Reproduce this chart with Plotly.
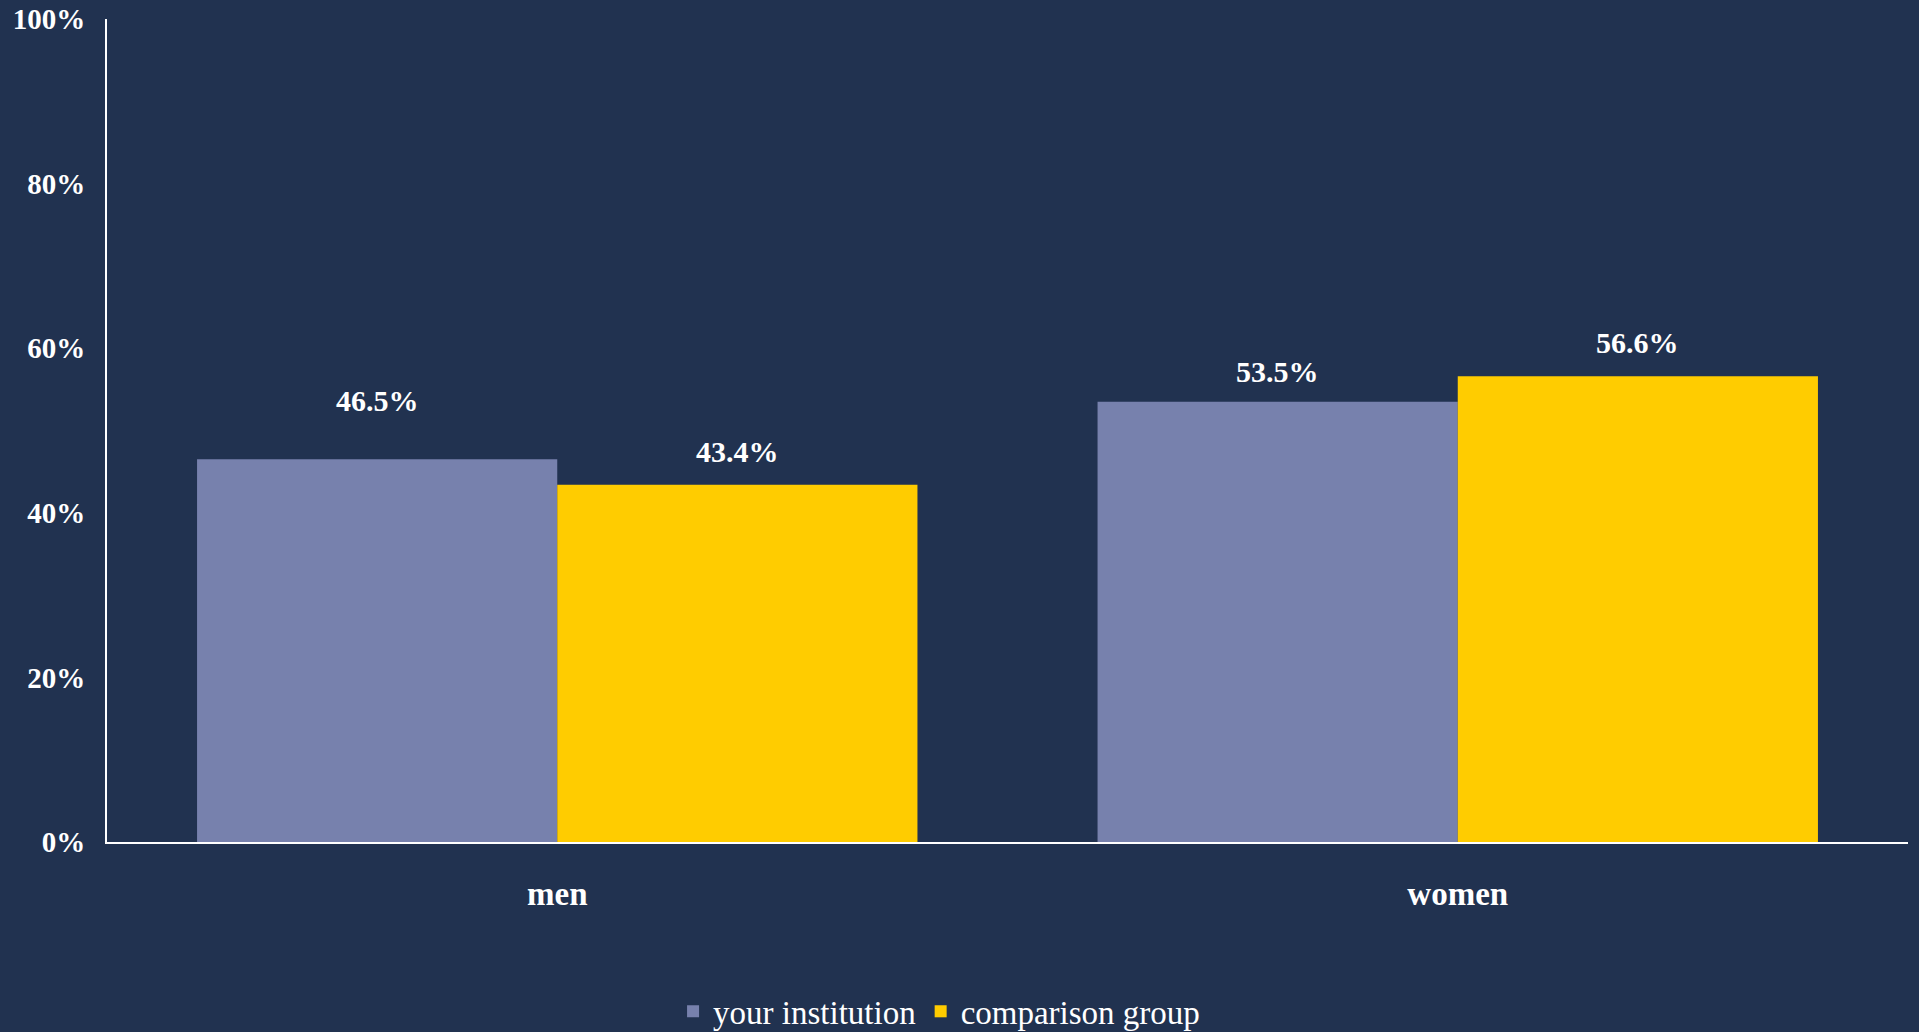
import plotly.graph_objects as go

categories = ["men", "women"]
series_names = ["your institution", "comparison group"]
your_institution = [46.5, 53.5]
comparison_group = [43.4, 56.6]
y_ticks = [0, 20, 40, 60, 80, 100]
y_tick_labels = ["0%", "20%", "40%", "60%", "80%", "100%"]

BG = "#213250"
C1 = "#7781AD"
C2 = "#FFCC00"
FONT = "Liberation Serif"

# label vertical offsets (px above bar top), per series / category
label_offsets = [[59, 30], [33, 34]]

W, H = 1919, 1032
ML, MR, MT, MB = 107, 11, 19, 190

fig = go.Figure()
series = [(series_names[0], your_institution, C1),
          (series_names[1], comparison_group, C2)]
for name, vals, col in series:
    fig.add_trace(go.Bar(
        x=categories, y=vals, name=name,
        marker=dict(color=col, line=dict(width=0)),
        hoverinfo="skip",
    ))

plot_w = W - ML - MR
cat_w = plot_w / len(categories)
bar_w = cat_w * 0.8 / len(series)
for si, (name, vals, col) in enumerate(series):
    xs = (si - (len(series) - 1) / 2) * bar_w
    for ci, v in enumerate(vals):
        fig.add_annotation(
            x=categories[ci], y=v, xref="x", yref="y",
            text=f"{v:.1f}%", showarrow=False,
            xshift=xs, yshift=label_offsets[si][ci],
            yanchor="middle", xanchor="center",
            font=dict(family=FONT, size=30, color="white", weight="bold"),
        )

fig.update_layout(
    barmode="group", bargap=0.2, bargroupgap=0,
    width=W, height=H,
    paper_bgcolor=BG, plot_bgcolor=BG,
    margin=dict(l=ML, r=MR, t=MT, b=MB, autoexpand=False),
    font=dict(family=FONT, color="white", size=26),
    legend=dict(orientation="h", x=0.462, xanchor="center",
                yref="container", y=0.02, yanchor="middle",
                font=dict(family=FONT, size=33, color="white"),
                itemwidth=30, traceorder="normal"),
    xaxis=dict(showline=True, linecolor="white", linewidth=2, ticks="",
               tickfont=dict(family=FONT, size=33, color="white", weight="bold"),
               ticklabelstandoff=21, showgrid=False, automargin=False),
    yaxis=dict(range=[0, 100], tickvals=y_ticks, ticktext=y_tick_labels,
               showline=True, linecolor="white", linewidth=2, showgrid=False,
               zeroline=False, ticks="", automargin=False,
               tickfont=dict(family=FONT, size=29, color="white", weight="bold"),
               ticklabelstandoff=14),
)
fig.write_html("out.html", config={"displayModeBar": False},
               post_script="document.body.style.margin='0';document.body.style.background='%s';" % BG)
